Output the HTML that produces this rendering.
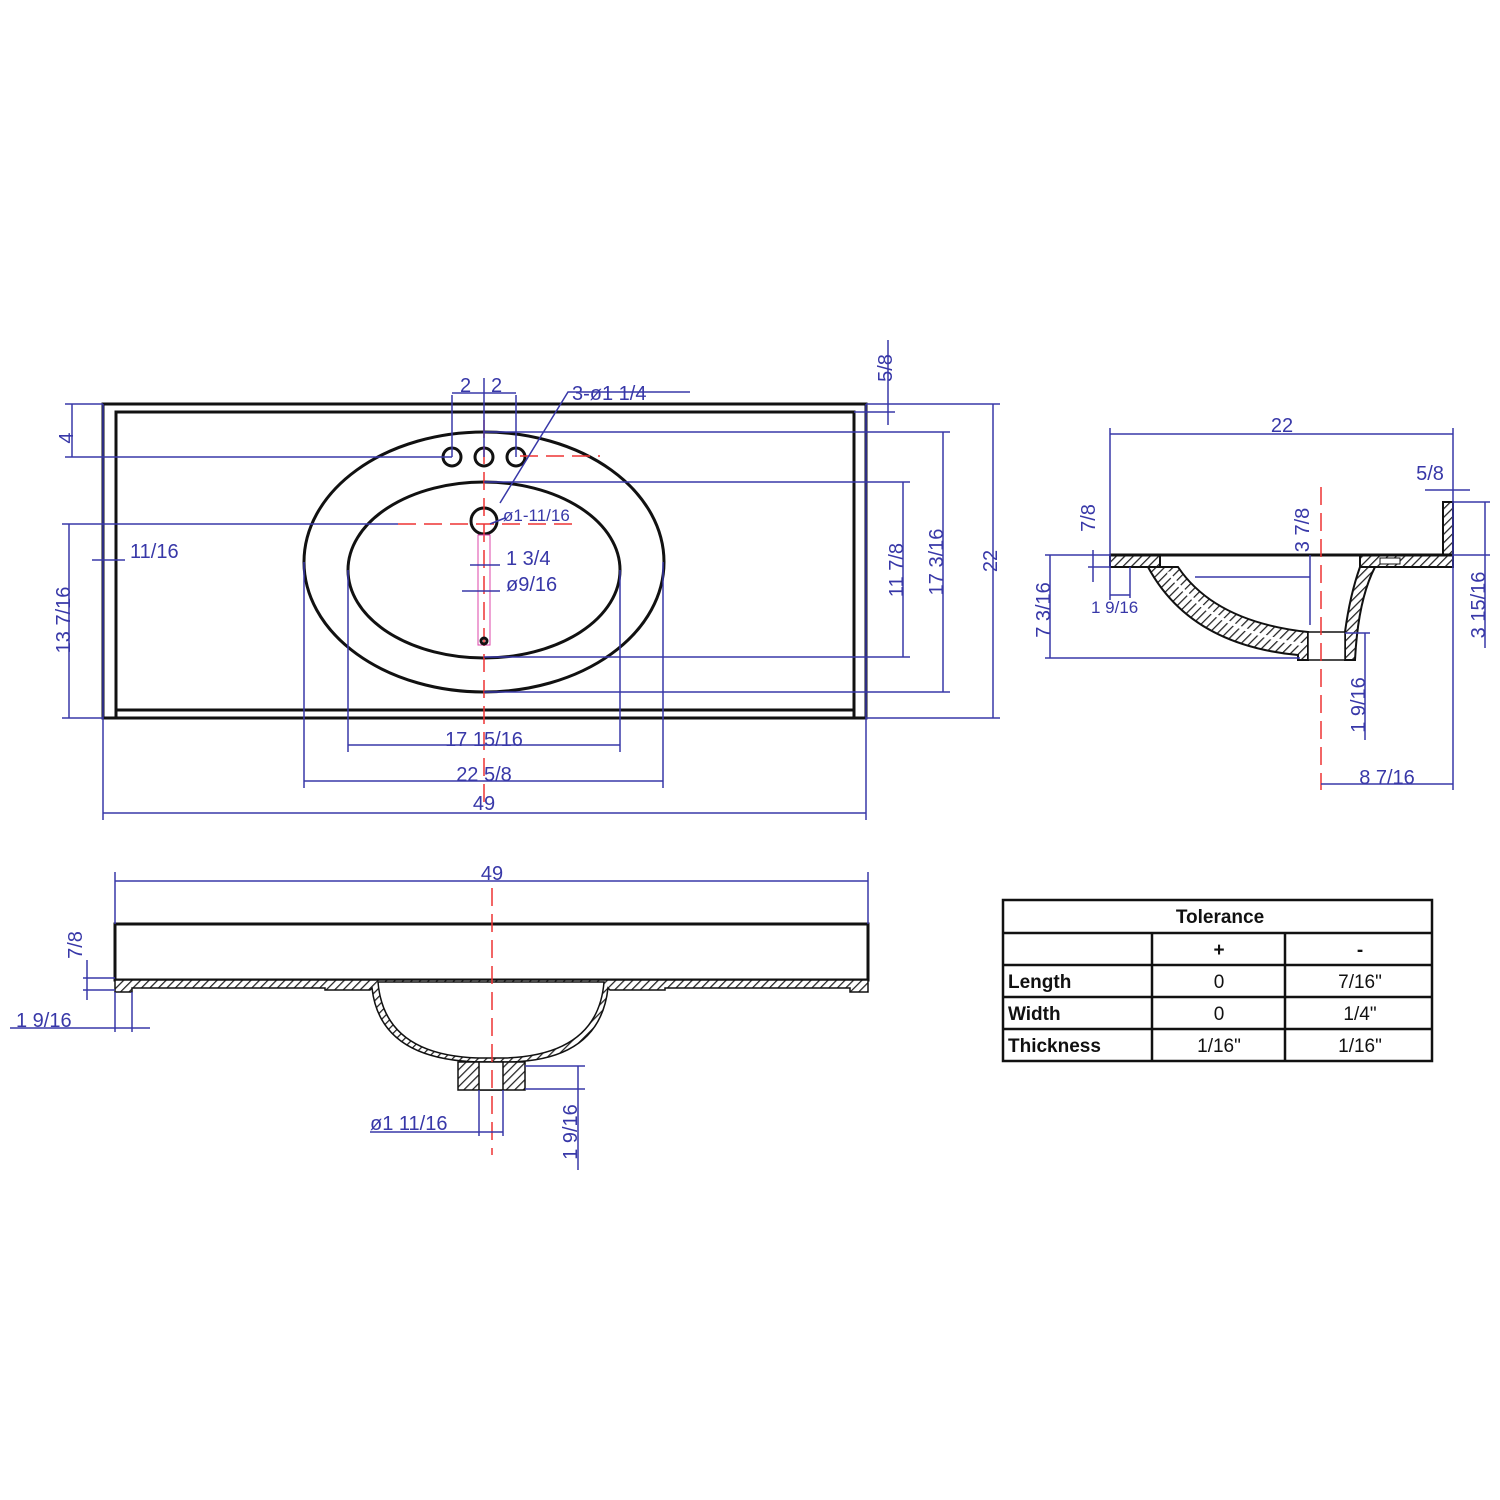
<!DOCTYPE html>
<html><head><meta charset="utf-8"><style>
html,body{margin:0;padding:0;background:#fff;}
svg{display:block}
.d{stroke:#3838a8;stroke-width:1.5;fill:none}
.k{stroke:#111;stroke-width:3;fill:none}
.r{stroke:#e33;stroke-width:1.5;stroke-dasharray:18,8;fill:none}
.t{font-family:"Liberation Sans",sans-serif;font-size:20px;fill:#3838a8}
.b{font-family:"Liberation Sans",sans-serif;font-size:19px;font-weight:bold;fill:#111}
.n{font-family:"Liberation Sans",sans-serif;font-size:19px;fill:#111}
</style></head><body>
<svg width="1500" height="1500" viewBox="0 0 1500 1500" xmlns="http://www.w3.org/2000/svg">
<defs>
<pattern id="h" width="6" height="6" patternUnits="userSpaceOnUse" patternTransform="rotate(45)">
<rect width="6" height="6" fill="#fff"/><line x1="0" y1="0" x2="0" y2="6" stroke="#222" stroke-width="2.5"/></pattern>
</defs>
<!-- TOP VIEW -->
<rect x="103" y="404" width="763" height="314" class="k"/>
<polyline points="116,718 116,412 854,412 854,718" class="k" stroke-width="2"/>
<line x1="116" y1="710" x2="854" y2="710" class="k" stroke-width="2"/>
<ellipse cx="484" cy="562" rx="180" ry="130" class="k"/>
<ellipse cx="484" cy="570" rx="136" ry="88" class="k"/>
<circle cx="452" cy="457" r="9" class="k" stroke-width="2.5"/>
<circle cx="484" cy="457" r="9" class="k" stroke-width="2.5"/>
<circle cx="516" cy="457" r="9" class="k" stroke-width="2.5"/>
<circle cx="484" cy="521" r="13" class="k" stroke-width="2.5"/>
<line x1="484" y1="420" x2="484" y2="810" class="r"/>
<line x1="520" y1="456" x2="600" y2="456" class="r"/>
<line x1="398" y1="524" x2="580" y2="524" class="r"/>
<rect x="478" y="535" width="12" height="110" fill="none" stroke="#d4a" stroke-width="1"/>
<circle cx="484" cy="641" r="3" class="k" stroke-width="1.5"/>
<g class="d">
<line x1="103" y1="404" x2="103" y2="820"/><line x1="866" y1="404" x2="866" y2="820"/>
<line x1="103" y1="813" x2="866" y2="813"/>
<line x1="304" y1="562" x2="304" y2="788"/><line x1="663" y1="562" x2="663" y2="788"/>
<line x1="304" y1="781" x2="663" y2="781"/>
<line x1="348" y1="570" x2="348" y2="752"/><line x1="620" y1="570" x2="620" y2="752"/>
<line x1="348" y1="745" x2="620" y2="745"/>
<line x1="866" y1="404" x2="1000" y2="404"/><line x1="993" y1="404" x2="993" y2="718"/><line x1="866" y1="718" x2="1000" y2="718"/>
<line x1="484" y1="432" x2="950" y2="432"/><line x1="943" y1="432" x2="943" y2="692"/><line x1="484" y1="692" x2="950" y2="692"/>
<line x1="484" y1="482" x2="910" y2="482"/><line x1="903" y1="482" x2="903" y2="657"/><line x1="484" y1="657" x2="910" y2="657"/>
<line x1="854" y1="412" x2="895" y2="412"/><line x1="888" y1="340" x2="888" y2="425"/>
<line x1="65" y1="404" x2="103" y2="404"/><line x1="72" y1="404" x2="72" y2="457"/><line x1="65" y1="457" x2="452" y2="457"/>
<line x1="62" y1="524" x2="398" y2="524"/><line x1="69" y1="524" x2="69" y2="718"/><line x1="62" y1="718" x2="103" y2="718"/>
<line x1="92" y1="560" x2="125" y2="560"/>
<line x1="452" y1="395" x2="452" y2="457"/><line x1="484" y1="378" x2="484" y2="457"/><line x1="516" y1="395" x2="516" y2="457"/>
<line x1="452" y1="393" x2="516" y2="393"/>
<polyline points="500,503 568,392 690,392"/>
<line x1="470" y1="565" x2="500" y2="565"/><line x1="462" y1="591" x2="500" y2="591"/>
<line x1="490" y1="524" x2="505" y2="518"/>
</g>
<g class="t">
<text x="484" y="810" text-anchor="middle">49</text>
<text x="484" y="781" text-anchor="middle">22  5/8</text>
<text x="484" y="746" text-anchor="middle">17  15/16</text>
<text x="130" y="558">11/16</text>
<text x="506" y="565">1  3/4</text>
<text x="506" y="591">ø9/16</text>
<text x="503" y="521" font-size="17">ø1-11/16</text>
<text x="572" y="400">3-ø1  1/4</text>
<text x="460" y="392">2</text><text x="491" y="392">2</text>
<text transform="translate(997,561) rotate(-90)" text-anchor="middle">22</text>
<text transform="translate(943,562) rotate(-90)" text-anchor="middle">17  3/16</text>
<text transform="translate(903,570) rotate(-90)" text-anchor="middle">11  7/8</text>
<text transform="translate(70,620) rotate(-90)" text-anchor="middle">13  7/16</text>
<text transform="translate(73,438) rotate(-90)" text-anchor="middle">4</text>
<text transform="translate(892,368) rotate(-90)" text-anchor="middle">5/8</text>
</g>
<!-- SIDE VIEW -->
<path d="M1110,555 L1160,555 L1160,567 L1110,567 Z" fill="url(#h)" stroke="#111" stroke-width="2"/>
<path d="M1148,567 L1178,567 Q1215,622 1308,632 L1308,660 L1298,660 L1298,655 Q1190,645 1148,567 Z" fill="url(#h)" stroke="#111" stroke-width="2"/>
<path d="M1168,572 Q1210,630 1304,645" stroke="#fff" stroke-width="3" fill="none"/>
<path d="M1360,567 L1453,567 L1453,502 L1443,502 L1443,555 L1360,555 Z" fill="url(#h)" stroke="#111" stroke-width="2"/>
<rect x="1380" y="558" width="20" height="6" fill="#fff" stroke="#111" stroke-width="1"/>
<path d="M1360,567 L1375,567 Q1358,600 1355,660 L1345,660 L1345,632 Q1350,595 1360,567 Z" fill="url(#h)" stroke="#111" stroke-width="2"/>
<rect x="1308" y="632" width="37" height="28" fill="#fff" stroke="#111" stroke-width="1.5"/>
<line x1="1110" y1="555" x2="1453" y2="555" stroke="#111" stroke-width="3"/>
<line x1="1321" y1="487" x2="1321" y2="790" class="r"/>
<g class="d">
<line x1="1110" y1="428" x2="1110" y2="600"/><line x1="1453" y1="428" x2="1453" y2="790"/>
<line x1="1110" y1="434" x2="1453" y2="434"/>
<line x1="1425" y1="490" x2="1470" y2="490"/>
<line x1="1453" y1="502" x2="1490" y2="502"/><line x1="1453" y1="555" x2="1490" y2="555"/><line x1="1485" y1="502" x2="1485" y2="648"/>
<line x1="1045" y1="555" x2="1110" y2="555"/><line x1="1050" y1="555" x2="1050" y2="658"/><line x1="1045" y1="658" x2="1300" y2="658"/>
<line x1="1093" y1="550" x2="1093" y2="582"/><line x1="1088" y1="567" x2="1110" y2="567"/>
<line x1="1130" y1="567" x2="1130" y2="598"/><line x1="1110" y1="595" x2="1130" y2="595"/>
<line x1="1310" y1="555" x2="1310" y2="625"/><line x1="1195" y1="577" x2="1310" y2="577"/>
<line x1="1345" y1="633" x2="1370" y2="633"/><line x1="1365" y1="633" x2="1365" y2="740"/>
<line x1="1321" y1="784" x2="1453" y2="784"/>
</g>
<g class="t">
<text x="1282" y="432" text-anchor="middle">22</text>
<text x="1430" y="480" text-anchor="middle">5/8</text>
<text x="1091" y="613" font-size="17">1  9/16</text>
<text x="1387" y="784" text-anchor="middle">8  7/16</text>
<text transform="translate(1095,518) rotate(-90)" text-anchor="middle">7/8</text>
<text transform="translate(1309,530) rotate(-90)" text-anchor="middle">3  7/8</text>
<text transform="translate(1050,610) rotate(-90)" text-anchor="middle">7  3/16</text>
<text transform="translate(1365,705) rotate(-90)" text-anchor="middle">1  9/16</text>
<text transform="translate(1485,605) rotate(-90)" text-anchor="middle">3  15/16</text>
</g>
<!-- FRONT VIEW -->
<rect x="115" y="924" width="753" height="56" class="k" stroke-width="2.5"/>
<path d="M115,980 L868,980 L868,992 L850,992 L850,988 L665,988 L665,990 L610,990 L608,988 Q600,1060 510,1062 L480,1062 Q380,1060 372,988 L370,990 L325,990 L325,988 L132,988 L132,992 L115,992 Z" fill="url(#h)" stroke="#111" stroke-width="1.5"/>
<path d="M378,982 L604,982 Q598,1055 505,1058 L478,1058 Q384,1055 378,982 Z" fill="#fff" stroke="#111" stroke-width="1.5"/>
<rect x="458" y="1062" width="67" height="28" fill="url(#h)" stroke="#111" stroke-width="1.5"/>
<rect x="479" y="1062" width="24" height="28" fill="#fff" stroke="#111" stroke-width="1.5"/>
<line x1="492" y1="888" x2="492" y2="1155" class="r"/>
<g class="d">
<line x1="115" y1="872" x2="115" y2="924"/><line x1="868" y1="872" x2="868" y2="924"/>
<line x1="115" y1="881" x2="868" y2="881"/>
<line x1="83" y1="978" x2="115" y2="978"/><line x1="83" y1="990" x2="115" y2="990"/><line x1="87" y1="960" x2="87" y2="1000"/>
<line x1="10" y1="1028" x2="150" y2="1028"/><line x1="115" y1="992" x2="115" y2="1032"/><line x1="132" y1="992" x2="132" y2="1032"/>
<line x1="525" y1="1066" x2="585" y2="1066"/><line x1="525" y1="1089" x2="585" y2="1089"/><line x1="578" y1="1066" x2="578" y2="1170"/>
<line x1="479" y1="1090" x2="479" y2="1136"/><line x1="503" y1="1090" x2="503" y2="1136"/>
<line x1="370" y1="1132" x2="503" y2="1132"/>
</g>
<g class="t">
<text x="492" y="880" text-anchor="middle">49</text>
<text x="16" y="1027">1  9/16</text>
<text x="370" y="1130">ø1  11/16</text>
<text transform="translate(82,945) rotate(-90)" text-anchor="middle">7/8</text>
<text transform="translate(577,1132) rotate(-90)" text-anchor="middle">1  9/16</text>
</g>
<!-- TABLE -->
<g stroke="#111" stroke-width="2.5" fill="none">
<rect x="1003" y="900" width="429" height="161"/>
<line x1="1003" y1="933" x2="1432" y2="933"/>
<line x1="1003" y1="965" x2="1432" y2="965"/>
<line x1="1003" y1="997" x2="1432" y2="997"/>
<line x1="1003" y1="1029" x2="1432" y2="1029"/>
<line x1="1152" y1="933" x2="1152" y2="1061"/>
<line x1="1285" y1="933" x2="1285" y2="1061"/>
</g>
<text x="1220" y="923" class="b" text-anchor="middle">Tolerance</text>
<text x="1219" y="956" class="b" text-anchor="middle">+</text>
<text x="1360" y="956" class="b" text-anchor="middle">-</text>
<text x="1008" y="988" class="b">Length</text>
<text x="1008" y="1020" class="b">Width</text>
<text x="1008" y="1052" class="b">Thickness</text>
<text x="1219" y="988" class="n" text-anchor="middle">0</text>
<text x="1219" y="1020" class="n" text-anchor="middle">0</text>
<text x="1219" y="1052" class="n" text-anchor="middle">1/16"</text>
<text x="1360" y="988" class="n" text-anchor="middle">7/16"</text>
<text x="1360" y="1020" class="n" text-anchor="middle">1/4"</text>
<text x="1360" y="1052" class="n" text-anchor="middle">1/16"</text>
</svg>
</body></html>
